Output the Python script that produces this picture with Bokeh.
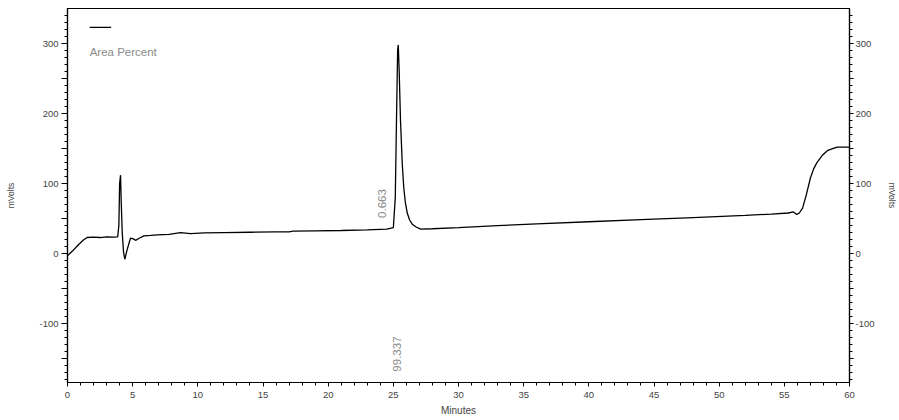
from bokeh.plotting import figure
from bokeh.models import LinearAxis, FixedTicker, Range1d, Label
from bokeh.embed import file_html
from bokeh.resources import INLINE
import math

# ---- data ----
minutes = [0.0, 0.4, 0.8, 1.2, 1.5, 2.0, 2.5, 3.0, 3.5, 3.85, 3.94, 4.0, 4.07, 4.12, 4.2, 4.3, 4.4,
           4.55, 4.83, 5.05, 5.22, 5.5, 5.86, 6.4, 6.88, 7.8, 8.67, 9.44, 10.5, 12.0, 14.0, 16.0,
           17.0, 17.3, 19.0, 21.0, 23.0, 24.5, 25.0, 25.15, 25.25, 25.33, 25.38, 25.45, 25.55,
           25.68, 25.8, 25.93, 26.07, 26.25, 26.45, 26.75, 27.1, 28.0, 30.0, 33.0, 36.0, 40.0,
           44.0, 48.0, 52.0, 54.0, 55.3, 55.7, 55.95, 56.15, 56.4, 56.7, 57.0, 57.25, 57.5,
           57.9, 58.3, 58.7, 59.05, 59.5, 60.0]
mvolts = [-3, 4, 12, 19, 23, 23.5, 23, 24, 23.5, 24, 40, 100, 112, 75, 30, 2, -8,
          4, 22, 21, 19, 22, 25.3, 26, 26.7, 27.5, 30, 28.6, 29.5, 30, 30.5, 31,
          31.2, 32, 32.5, 33, 34, 35, 37, 80, 200, 290, 298, 260, 190,
          130, 94, 72, 58, 48, 42, 38, 35, 35.5, 37, 40, 42.5, 45.5,
          48.5, 51.5, 54.5, 56.5, 58, 59.5, 56, 58, 65, 85, 108, 121, 130,
          140, 147, 150, 152, 152, 152]

peak_labels = ["0.663", "99.337"]
peak_label_x = [24.1, 25.3]
peak_label_y = [51, -168.5]

y_major = [-150, -100, -50, 0, 50, 100, 150, 200, 250, 300]
y_labels = {-150: "", -100: "-100", -50: "", 0: "0", 50: "", 100: "100", 150: "", 200: "200", 250: "", 300: "300"}
y_minor = list(range(-180, 350, 10))
x_major = [0, 5, 10, 15, 20, 25, 30, 35, 40, 45, 50, 55, 60]
x_minor = list(range(0, 61, 1))

FONT = "Liberation Sans"
TXT = "#444444"

p = figure(width=899, height=420, output_backend="svg", toolbar_location=None,
           x_range=Range1d(0, 60), y_range=Range1d(-184, 350),
           min_border_left=67, min_border_right=50, min_border_top=8, min_border_bottom=38,
           x_axis_label="Minutes", y_axis_label="mVolts")
p.grid.visible = False
p.outline_line_color = "black"
p.outline_line_width = 1.2
p.background_fill_color = "white"
p.border_fill_color = "white"

p.line(minutes, mvolts, line_color="black", line_width=1.3)

right = LinearAxis(axis_label="mVolts")
p.add_layout(right, "right")

for ax in p.yaxis:
    ax.ticker = FixedTicker(ticks=y_major, minor_ticks=y_minor)
    ax.major_label_overrides = y_labels
    ax.major_tick_out = 6
    ax.major_tick_in = 0
    ax.minor_tick_out = 3
    ax.minor_tick_in = 0
    ax.major_label_standoff = 3
    ax.axis_line_color = "black"
    ax.axis_line_width = 1.2
    ax.major_label_text_font = FONT
    ax.major_label_text_font_size = "9.5px"
    ax.major_label_text_color = TXT
    ax.axis_label_text_font = FONT
    ax.axis_label_text_font_size = "8.5px"
    ax.axis_label_text_font_style = "normal"
    ax.axis_label_text_color = TXT
    ax.major_label_orientation = "horizontal"
p.yaxis[0].axis_label_standoff = 20
right.axis_label_standoff = 9
right.major_tick_out = 4
right.major_label_standoff = 2

xa = p.xaxis[0]
xa.ticker = FixedTicker(ticks=x_major, minor_ticks=x_minor)
xa.major_tick_out = 4
xa.major_tick_in = 0
xa.minor_tick_out = 3
xa.minor_tick_in = 0
xa.major_label_standoff = 5
xa.axis_line_color = "black"
xa.axis_line_width = 1.2
xa.major_label_text_font = FONT
xa.major_label_text_font_size = "9.5px"
xa.major_label_text_color = TXT
xa.axis_label_text_font = FONT
xa.axis_label_text_font_size = "10px"
xa.axis_label_text_font_style = "normal"
xa.axis_label_text_color = TXT
xa.axis_label_standoff = 4

for txt, tx, ty in zip(peak_labels, peak_label_x, peak_label_y):
    p.add_layout(Label(x=tx, y=ty, text=txt, angle=math.pi / 2, text_align="left",
                       text_baseline="middle", text_font=FONT, text_font_size="11.5px",
                       text_color="#8a8a8a"))

# legend-like key at upper left
p.segment(x0=[1.7], y0=[323], x1=[3.35], y1=[323], line_color="black", line_width=1.4)
p.add_layout(Label(x=1.7, y=288, text="Area Percent", text_align="left", text_baseline="middle",
                   text_font=FONT, text_font_size="11.5px", text_color="#8a8a8a"))

open("out.html", "w").write(file_html(p, INLINE))
